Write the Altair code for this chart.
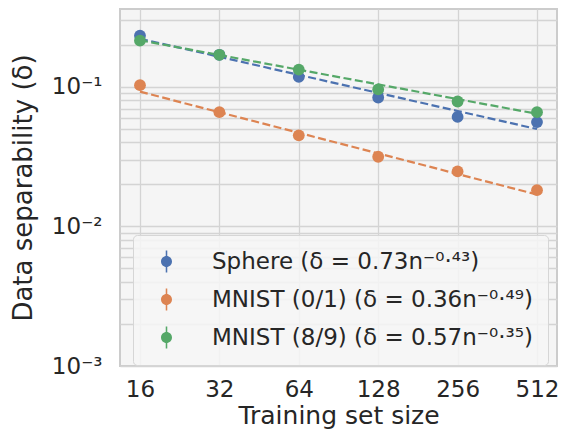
import altair as alt
import pandas as pd

sizes = [16, 32, 64, 128, 256, 512]
labels = [
    "Sphere (δ = 0.73n⁻⁰·⁴³)",
    "MNIST (0/1) (δ = 0.36n⁻⁰·⁴⁹)",
    "MNIST (8/9) (δ = 0.57n⁻⁰·³⁵)",
]
sphere = [0.233, 0.170, 0.118, 0.084, 0.061, 0.056]
mnist01 = [0.103, 0.066, 0.045, 0.0316, 0.0248, 0.0182]
mnist89 = [0.215, 0.170, 0.133, 0.096, 0.0787, 0.066]
fit_coef = [0.73, 0.36, 0.57]
fit_exp = [-0.43, -0.49, -0.35]
colors = ["#4c72b0", "#dd8452", "#55a868"]

rows = []
for lab, vals, c, e in zip(labels, [sphere, mnist01, mnist89], fit_coef, fit_exp):
    for n, v in zip(sizes, vals):
        rows.append({"series": lab, "n": n, "delta": v, "fit": c * n ** e})
df = pd.DataFrame(rows)

y_grid = [k * 10.0 ** p for p in (-3, -2) for k in range(1, 10)] + [0.1, 0.2, 0.3]
y_scale = alt.Scale(type="log", domain=[0.001, 0.362])

color = alt.Color(
    "series:N",
    scale=alt.Scale(domain=labels, range=colors),
    legend=alt.Legend(
        title=None,
        orient="none",
        legendX=13,
        legendY=226,
        direction="vertical",
        symbolType="M -0.5 0 A 0.5 0.5 0 1 1 0.5 0 A 0.5 0.5 0 1 1 -0.5 0 Z M -0.07 -1 L 0.07 -1 L 0.07 -0.45 L -0.07 -0.45 Z M -0.07 0.45 L 0.07 0.45 L 0.07 1 L -0.07 1 Z",
        symbolSize=484,
        symbolStrokeWidth=0,
        symbolOpacity=1,
        symbolOffset=7,
        labelFontSize=23,
        labelFont="DejaVu Sans",
        labelColor="#262626",
        labelOffset=34,
        labelLimit=500,
        rowPadding=14,
        padding=15,
        fillColor="rgba(246,246,246,0.85)",
        strokeColor="#d6d6d6",
        cornerRadius=4,
    ),
)

x = alt.X(
    "n:Q",
    scale=alt.Scale(type="log", base=2, domain=[13.44, 609.7]),
    axis=alt.Axis(
        values=sizes,
        format="d",
        title="Training set size",
        ticks=False,
        domain=False,
        labelPadding=12,
        titlePadding=2,
        titleFontSize=25,
        labelFlush=False,
    ),
)
y = alt.Y(
    "delta:Q",
    scale=y_scale,
    axis=alt.Axis(
        values=y_grid,
        labelExpr="datum.value == 0.1 ? '10⁻¹' : datum.value == 0.01 ? '10⁻²' : datum.value == 0.001 ? '10⁻³' : ''",
        title="Data separability (δ)",
        ticks=False,
        domain=False,
        labelPadding=18,
        titlePadding=15,
    ),
)

base = alt.Chart(df)
lines = base.mark_line(strokeDash=[8, 3.5], strokeWidth=2.2).encode(
    x=x, y=alt.Y("fit:Q", scale=y_scale), color=color, detail="series:N"
)
points = base.mark_point(filled=True, size=140, opacity=1).encode(x=x, y=y, color=color)

chart = (
    alt.layer(lines, points)
    .properties(
        width=437,
        height=357,
        autosize=alt.AutoSizeParams(type="none"),
        padding={"left": 112, "top": 1, "right": 1, "bottom": 67},
    )
    .configure_view(fill="#f5f5f5", stroke="#cccccc", strokeWidth=2)
    .configure_axis(
        gridColor="#d4d4d4",
        gridWidth=1.3,
        labelFont="DejaVu Sans",
        titleFont="DejaVu Sans",
        labelFontSize=23,
        titleFontSize=26,
        titleFontWeight="normal",
        labelColor="#262626",
        titleColor="#262626",
    )
)

chart.save("out.html", embed_options={"renderer": "svg", "actions": False})
